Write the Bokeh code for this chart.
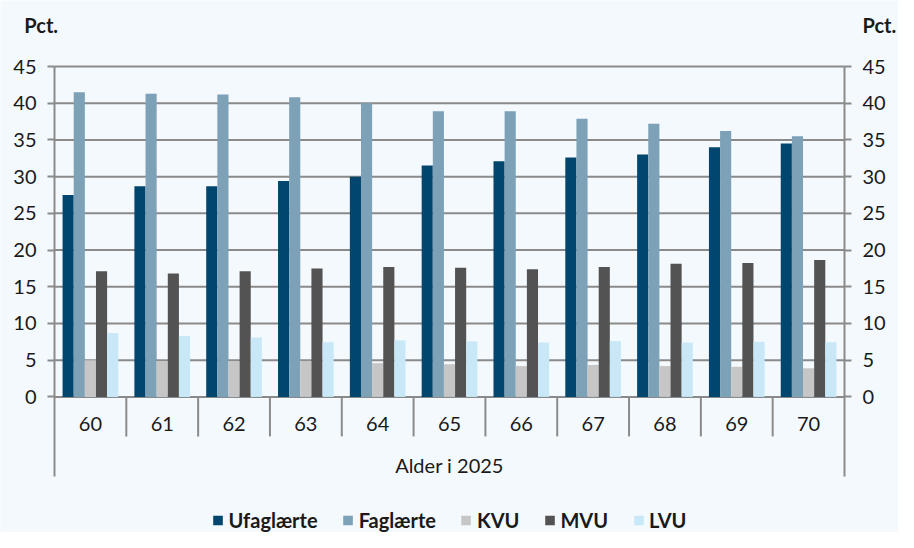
from bokeh.plotting import figure
from bokeh.models import ColumnDataSource, Range1d, FactorRange, LinearAxis, FixedTicker, Label, Legend
from bokeh.transform import dodge
from bokeh.embed import file_html
from bokeh.resources import INLINE
from bokeh.core.properties import value

ages = ["60", "61", "62", "63", "64", "65", "66", "67", "68", "69", "70"]
ufaglaerte = [27.5, 28.7, 28.7, 29.4, 30.0, 31.5, 32.1, 32.6, 33.0, 34.0, 34.5]
faglaerte = [41.5, 41.3, 41.2, 40.8, 40.0, 38.9, 38.9, 37.9, 37.2, 36.2, 35.5]
kvu = [5.0, 4.9, 4.9, 4.9, 4.6, 4.45, 4.2, 4.35, 4.2, 4.1, 3.9]
mvu = [17.1, 16.8, 17.1, 17.5, 17.7, 17.6, 17.4, 17.7, 18.15, 18.25, 18.65]
lvu = [8.7, 8.3, 8.1, 7.45, 7.7, 7.55, 7.4, 7.6, 7.4, 7.5, 7.45]

series_names = ["Ufaglærte", "Faglærte", "KVU", "MVU", "LVU"]
series_values = [ufaglaerte, faglaerte, kvu, mvu, lvu]
colors = ["#00466E", "#7DA1B7", "#C6C6C6", "#535353", "#C8E8F8"]
y_ticks = [0, 5, 10, 15, 20, 25, 30, 35, 40, 45]
x_title = "Alder i 2025"
unit_label = "Pct."

FONT = "Lato"
TXT = "#1A1A1A"
BG = "#F4F9FD"
GRID = "#8A8A8A"
FS = "20px"

data = {"age": ages}
for name, vals in zip(series_names, series_values):
    data[name] = vals
source = ColumnDataSource(data)
sep_source = ColumnDataSource({"age": ages[1:]})
grid_source = ColumnDataSource({"y": y_ticks,
                                "first": [ages[0]] * len(y_ticks),
                                "last": [ages[-1]] * len(y_ticks)})

W, H = 898, 532
side_px = 54.0
cat_px = (W - 2 * side_px) / len(ages)
top45, zero_px = 66.0, 396.4
px_per_unit = (zero_px - top45) / 45.0
y_end = 45 + top45 / px_per_unit
y_start = -(H - zero_px) / px_per_unit
axis_bottom = -10.8

# padding is applied on each side of the factors
x_range = FactorRange(*ages, range_padding=side_px / cat_px, range_padding_units="absolute")

p = figure(
    width=W, height=H,
    x_range=x_range,
    y_range=Range1d(y_start, y_end),
    output_backend="svg",
    toolbar_location=None,
    x_axis_location=None,
    y_axis_location=None,
    min_border=0, min_border_left=0, min_border_right=0,
    min_border_top=0, min_border_bottom=0,
    background_fill_color=BG,
    border_fill_color=BG,
    outline_line_color=None,
)
p.xgrid.visible = False
p.ygrid.visible = False

for side, loc in (("left", 0), ("right", len(ages))):
    ax = LinearAxis(
        ticker=FixedTicker(ticks=y_ticks),
        fixed_location=loc,
        bounds=(axis_bottom, 45),
        axis_line_color=GRID, axis_line_width=2,
        major_tick_line_color=GRID, major_tick_line_width=2,
        major_tick_out=7, major_tick_in=0,
        minor_tick_line_color=None,
        major_label_standoff=11,
        major_label_text_font=FONT,
        major_label_text_font_size=FS,
        major_label_text_color=TXT,
    )
    p.add_layout(ax, side)

# horizontal gridlines between the two value axes
p.segment(x0=dodge("first", -0.5, range=x_range), x1=dodge("last", 0.5, range=x_range),
          y0="y", y1="y", source=grid_source, line_color=GRID, line_width=2)

bar_w = 0.155
offsets = [-2 * bar_w, -bar_w, 0, bar_w, 2 * bar_w]
renderers = []
for name, col, off in zip(series_names, colors, offsets):
    r = p.vbar(x=dodge("age", off, range=x_range), top=name, width=bar_w,
               source=source, fill_color=col, line_color=None)
    renderers.append((name, [r]))

# category separators
p.segment(x0=dodge("age", -0.5, range=x_range), x1=dodge("age", -0.5, range=x_range),
          y0=0, y1=-5.38, source=sep_source, line_color=GRID, line_width=2)

# category labels
p.text(x="age", y=-3.66, text="age", source=source,
       text_font=value(FONT), text_font_size=FS, text_color=TXT,
       text_align="center", text_baseline="middle")

p.add_layout(Label(x=len(ages) / 2, y=-9.21, text=x_title, text_font=FONT, text_font_size=FS,
                   text_color=TXT, text_align="center", text_baseline="middle"))

p.add_layout(Label(x=-0.42, y=50.68, text=unit_label, text_font=FONT, text_font_size=FS,
                   text_font_style="bold", text_color=TXT, text_align="left", text_baseline="middle"))
p.add_layout(Label(x=len(ages) + 0.72, y=50.68, text=unit_label, text_font=FONT, text_font_size=FS,
                   text_font_style="bold", text_color=TXT, text_align="right", text_baseline="middle"))

legend = Legend(
    items=renderers, orientation="horizontal", location="bottom_center",
    background_fill_alpha=0, border_line_color=None,
    label_text_font=FONT, label_text_font_size=FS, label_text_font_style="bold",
    label_text_color=TXT, glyph_width=12, glyph_height=12, label_standoff=5,
    spacing=24, padding=0, margin=0, label_height=14,
)
p.add_layout(legend, "center")

open("out.html", "w").write(file_html(p, INLINE))
